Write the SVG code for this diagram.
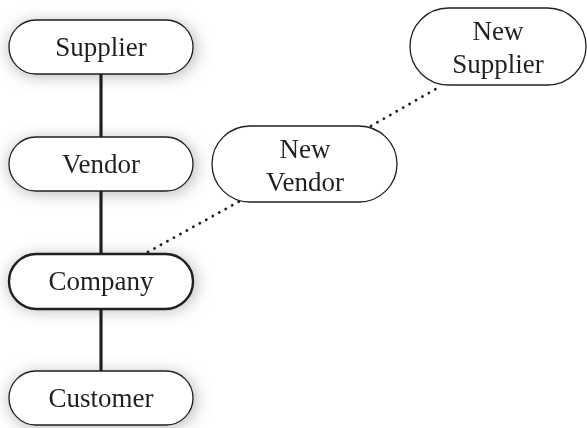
<svg xmlns="http://www.w3.org/2000/svg" width="587" height="428" viewBox="0 0 587 428">
  <defs>
    <filter id="glow" x="-30%" y="-60%" width="160%" height="220%">
      <feGaussianBlur stdDeviation="8"/>
    </filter>
  </defs>
  <style>
    .pill { fill: #ffffff; stroke: #231f20; stroke-width: 1.3; }
    .pill-bold { fill: #ffffff; stroke: #231f20; stroke-width: 2.4; }
    .shade { fill: #7a7a7a; opacity: 0.55; }
    .label { font-family: "Liberation Serif", "DejaVu Serif", serif; font-size: 27px; fill: #231f20; text-anchor: middle; }
    .solid { stroke: #231f20; stroke-width: 3.2; fill: none; }
    .dotted { stroke: #231f20; stroke-width: 2.8; fill: none; stroke-dasharray: 0.1 7.3; stroke-linecap: round; }
  </style>

  <!-- soft shading behind the left column -->
  <g id="shading" filter="url(#glow)">
    <rect class="shade" x="9" y="22" width="187" height="54" rx="27"/>
    <rect class="shade" x="9" y="139" width="187" height="54" rx="27"/>
    <rect class="shade" x="9" y="256" width="187" height="54" rx="27"/>
    <rect class="shade" x="9" y="373" width="187" height="54" rx="27"/>
  </g>

  <g id="connectors">
    <line class="solid" x1="101" y1="73" x2="101" y2="137"/>
    <line class="solid" x1="101" y1="190" x2="101" y2="254"/>
    <line class="solid" x1="101" y1="308" x2="101" y2="371"/>
    <line class="dotted" x1="148" y1="252" x2="240" y2="201"/>
    <line class="dotted" x1="371" y1="126" x2="441" y2="86"/>
  </g>

  <g id="supplier">
    <rect class="pill" x="9" y="20" width="184" height="54" rx="27"/>
    <text class="label" x="101" y="56">Supplier</text>
  </g>
  <g id="vendor">
    <rect class="pill" x="9" y="137" width="184" height="54" rx="27"/>
    <text class="label" x="101" y="173">Vendor</text>
  </g>
  <g id="company">
    <rect class="pill-bold" x="9" y="254" width="184" height="55" rx="27.5"/>
    <text class="label" x="101" y="290">Company</text>
  </g>
  <g id="customer">
    <rect class="pill" x="9" y="371" width="184" height="54" rx="27"/>
    <text class="label" x="101" y="407">Customer</text>
  </g>
  <g id="new-vendor">
    <rect class="pill" x="212" y="126" width="185" height="76" rx="38"/>
    <text class="label" x="305" y="158">New</text>
    <text class="label" x="305" y="191">Vendor</text>
  </g>
  <g id="new-supplier">
    <rect class="pill" x="410" y="8" width="176" height="77" rx="38.5"/>
    <text class="label" x="498" y="40">New</text>
    <text class="label" x="498" y="73">Supplier</text>
  </g>
</svg>
